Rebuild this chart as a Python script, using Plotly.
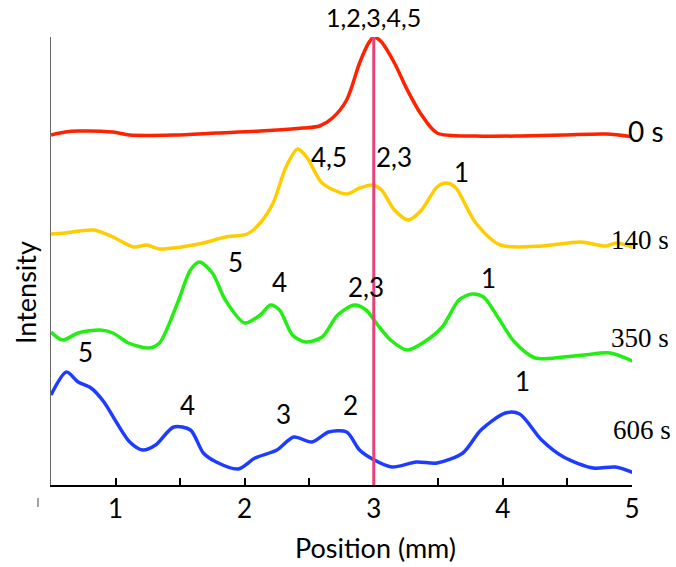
import plotly.graph_objects as go

# Intensity profiles along the channel at four times (arbitrary units)
times = ["0 s", "140 s", "350 s", "606 s"]
colors = ["#ff2200", "#ffcc00", "#22ee11", "#1e3cff"]
offsets = [350, 240, 130, 10]

x_0s = [0.50, 0.61, 0.71, 0.98, 1.11, 1.45, 1.78, 2.12, 2.45, 2.58, 2.68, 2.79,
        2.89, 2.96, 3.00, 3.06, 3.16, 3.26, 3.36, 3.49, 3.79, 4.13, 4.47, 4.80, 5.02]
i_0s = [0, 3, 4, 3, 0, 0, 2, 4, 7, 9, 17, 35,
        72, 92, 98, 93, 72, 45, 22, 2, -1, -1, 0, 1, -2]

x_140s = [0.50, 0.61, 0.83, 0.98, 1.14, 1.24, 1.34, 1.51, 1.68, 1.85, 2.02, 2.12,
          2.22, 2.32, 2.41, 2.48, 2.60, 2.79, 2.89, 2.99, 3.06, 3.16, 3.27, 3.37,
          3.49, 3.56, 3.63, 3.79, 3.98, 4.30, 4.60, 4.80, 4.88, 5.02]
i_140s = [11, 12, 15, 8, -2, 0, -4, -2, 2, 8, 11, 22,
          42, 78, 96, 88, 62, 51, 57, 60, 55, 35, 25, 35,
          58, 62, 58, 22, 0, -1, 3, -1, 2, -3]

x_350s = [0.50, 0.59, 0.71, 0.88, 0.98, 1.10, 1.26, 1.34, 1.48, 1.58, 1.65, 1.75,
          1.85, 2.00, 2.12, 2.20, 2.27, 2.37, 2.47, 2.60, 2.72, 2.85, 2.94, 3.03,
          3.13, 3.26, 3.39, 3.53, 3.66, 3.76, 3.85, 3.96, 4.09, 4.25, 4.47, 4.63,
          4.83, 5.02]
i_350s = [23, 15, 22, 25, 22, 12, 7, 12, 52, 85, 93, 82,
          55, 32, 40, 50, 45, 20, 13, 18, 40, 50, 45, 30,
          15, 5, 13, 28, 55, 61, 58, 38, 13, -3, -2, 0,
          2, -7]

x_606s = [0.50, 0.62, 0.71, 0.81, 0.91, 1.01, 1.11, 1.21, 1.31, 1.45, 1.58, 1.68,
          1.78, 1.95, 2.08, 2.25, 2.38, 2.52, 2.65, 2.79, 2.89, 2.99, 3.14, 3.33,
          3.49, 3.69, 3.83, 4.02, 4.13, 4.30, 4.47, 4.70, 4.87, 5.02]
i_606s = [80, 103, 93, 87, 73, 52, 33, 25, 30, 48, 45, 22,
          13, 6, 17, 25, 38, 33, 43, 43, 25, 16, 8, 13,
          12, 22, 45, 62, 61, 35, 18, 7, 8, 2]

profiles_x = [x_0s, x_140s, x_350s, x_606s]
profiles_i = [i_0s, i_140s, i_350s, i_606s]

# Band identification labels: (text, position, stacked intensity)
band_labels = [
    ("4,5", 2.65, 328), ("2,3", 3.16, 328), ("1", 3.68, 313),
    ("5", 1.93, 223), ("4", 2.27, 203), ("2,3", 2.94, 198), ("1", 3.89, 207),
    ("5", 0.77, 133), ("4", 1.56, 80), ("3", 2.30, 71), ("2", 2.82, 80), ("1", 4.15, 104),
]
top_label = "1,2,3,4,5"

# Time captions at the right end of each profile
time_label_pos = [(4.95, 354), (4.82, 245), (4.82, 147), (4.84, 55)]
time_label_fonts = ["Lato", "Liberation Serif", "Liberation Serif", "Liberation Serif"]
time_label_sizes = [28, 27, 27, 27]

x_ticks = [1, 1.5, 2, 2.5, 3, 3.5, 4, 4.5, 5]
x_ticktext = ["1", "", "2", "", "3", "", "4", "", "5"]
marker_position = 3.0

fig = go.Figure()
for name, xs, vals, off, col in zip(times, profiles_x, profiles_i, offsets, colors):
    fig.add_trace(go.Scatter(
        x=xs, y=[v + off for v in vals], mode="lines", name=name,
        line=dict(color=col, width=3.5, shape="spline", smoothing=0.8),
        showlegend=False, hoverinfo="skip",
    ))

# Reference position line
fig.add_shape(type="line", xref="x", yref="y", x0=marker_position, x1=marker_position,
              y0=0, y1=448, line=dict(color="#e8407a", width=3), layer="above")

annotations = []
# label over the single initial peak
peak_idx = i_0s.index(max(i_0s))
annotations.append(dict(x=x_0s[peak_idx], y=i_0s[peak_idx] + offsets[0], xref="x", yref="y",
                        text=top_label, showarrow=False, xanchor="center", yanchor="bottom",
                        yshift=3, font=dict(family="Lato", size=25, color="black")))
for text, bx, by in band_labels:
    annotations.append(dict(x=bx, y=by, xref="x", yref="y", text=text, showarrow=False,
                            xanchor="center", yanchor="middle",
                            font=dict(family="Lato", size=26, color="black")))
for text, (tx, ty), fam, fs in zip(times, time_label_pos, time_label_fonts, time_label_sizes):
    annotations.append(dict(x=tx, y=ty, xref="x", yref="y", text=text, showarrow=False,
                            xanchor="left", yanchor="middle",
                            font=dict(family=fam, size=fs, color="black")))
annotations.append(dict(x=0.5577, y=-0.1406, xref="paper", yref="paper", text="Position (mm)",
                        showarrow=False, xanchor="center", yanchor="middle",
                        font=dict(family="Lato", size=27, color="black")))
annotations.append(dict(x=-0.043, y=0.4286, xref="paper", yref="paper", text="Intensity",
                        textangle=-90, showarrow=False, xanchor="center", yanchor="middle",
                        font=dict(family="Lato", size=27, color="black")))

# small stray mark left of the origin
fig.add_shape(type="line", xref="paper", yref="paper", x0=-0.0224, x1=-0.0224,
              y0=-0.029, y1=-0.049, line=dict(color="#444", width=1))

fig.update_layout(
    width=676, height=567,
    margin=dict(l=51, r=44, t=37, b=82),
    paper_bgcolor="white", plot_bgcolor="white",
    annotations=annotations,
    xaxis=dict(range=[0.5, 5.0], tickvals=x_ticks, ticktext=x_ticktext,
               ticks="inside", ticklen=7, tickwidth=1.5, tickcolor="black",
               showline=True, linecolor="black", linewidth=1.5,
               showgrid=False, zeroline=False,
               tickfont=dict(family="Lato", size=26, color="black")),
    yaxis=dict(range=[0, 448], showline=True, linecolor="#666", linewidth=1,
               showticklabels=False, ticks="", showgrid=False, zeroline=False),
)

fig.write_html("out.html")
